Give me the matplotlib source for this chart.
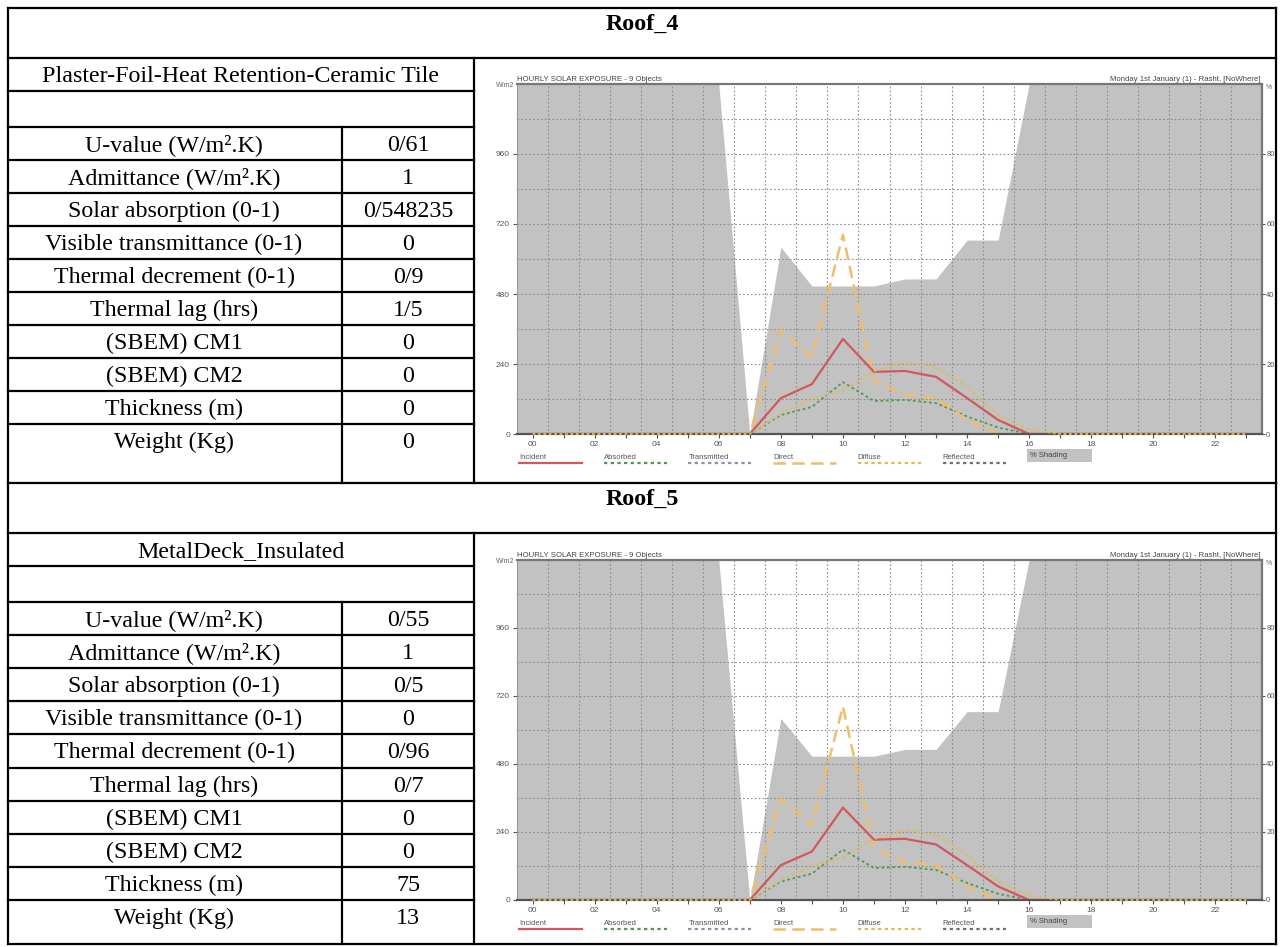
import numpy as np
import matplotlib.pyplot as plt
from matplotlib.patches import Rectangle

W, H = 1280, 947

# hourly solar exposure (same for both roofs), W/m2
hours = np.arange(24)
incident = [0] * 8 + [123, 171, 326, 213, 216, 196, 123, 48] + [0] * 8
absorbed = [0] * 8 + [65, 93, 178, 113, 117, 106, 60, 22] + [0] * 8
transmitted = [0] * 24
direct = [0] * 8 + [357, 264, 683, 182, 134, 123, 48, 0] + [0] * 8
diffuse = [0] * 8 + [70, 120, 150, 215, 245, 230, 160, 65, 15] + [0] * 7
reflected = [0] * 24
# % shading (right axis)
shading = [100] * 7 + [0, 53.4, 42.3, 42.3, 42.3, 44.3, 44.3, 55.4, 55.4] + [100] * 8

roof_titles = ["Roof_4", "Roof_5"]
roof_names = ["Plaster-Foil-Heat Retention-Ceramic Tile", "MetalDeck_Insulated"]
prop_labels = ["U-value (W/m\u00b2.K)", "Admittance (W/m\u00b2.K)", "Solar absorption (0-1)",
               "Visible transmittance (0-1)", "Thermal decrement (0-1)", "Thermal lag (hrs)",
               "(SBEM) CM1", "(SBEM) CM2", "Thickness (m)", "Weight (Kg)"]
roof4_values = ["0/61", "1", "0/548235", "0", "0/9", "1/5", "0", "0", "0", "0"]
roof5_values = ["0/55", "1", "0/5", "0", "0/96", "0/7", "0", "0", "75", "13"]

series = [  # name, values, color, linestyle, linewidth, zorder
    ("Incident", incident, "#d2585a", "-", 1.6, 9),
    ("Absorbed", absorbed, "#4e9a52", (0, (1.5, 1.5)), 1.3, 7),
    ("Transmitted", transmitted, "#8894a8", (0, (1.5, 1.5)), 1.1, 4),
    ("Direct", direct, "#f0bd6a", (0, (5, 2.5)), 1.8, 8),
    ("Diffuse", diffuse, "#e8b850", (0, (1.5, 1.5)), 1.3, 21),
    ("Reflected", reflected, "#707080", (0, (1.5, 1.5)), 1.1, 3),
]

serif = ["Liberation Serif", "DejaVu Serif"]
plt.rcParams["font.family"] = ["Liberation Sans Narrow", "Liberation Sans", "DejaVu Sans"]

fig = plt.figure(figsize=(W / 100, H / 100), dpi=100)
bg = fig.add_axes([0, 0, 1, 1])
bg.set_xlim(0, W)
bg.set_ylim(H, 0)
bg.axis("off")

LW = 1.6
FS = 17.3
LEFT, MID, SPLIT, RIGHT = 8, 342, 474, 1276


def line(x0, y0, x1, y1):
    bg.plot([x0, x1], [y0, y1], color="k", lw=LW, solid_capstyle="projecting")


def draw_chart(top, bottom):
    ax = fig.add_axes([517 / W, 1 - bottom / H, (1262 - 517) / W, (bottom - top) / H])
    ax.set_xlim(-0.5, 23.5)
    ax.set_ylim(0, 1200)
    fx = np.r_[-0.5, hours, 23.5]
    fy = np.r_[shading[0], shading, shading[-1]] * 12
    ax.fill_between(fx, 0, fy, color="#c2c2c2", lw=0, zorder=1)
    for y in range(120, 1200, 120):
        ax.axhline(y, color="#8c8c8c", lw=0.8, ls=(0, (1.5, 2)), zorder=2)
    for x in np.arange(0.5, 23.5, 1):
        ax.axvline(x, color="#8c8c8c", lw=0.8, ls=(0, (1.5, 2)), zorder=2)
    for name, vals, col, ls, lw, z in series:
        ax.plot(hours, vals, color=col, ls=ls, lw=lw, zorder=z, clip_on=(z < 20))

    ax.set_xticks(hours)
    ax.set_xticklabels(["%02d" % h if h % 2 == 0 else "" for h in hours])
    ax.set_yticks(range(0, 1200, 240))
    ax.tick_params(labelsize=6, colors="#555", length=3, width=0.8, pad=2)
    for s in ["top", "right"]:
        ax.spines[s].set_color("#777")
        ax.spines[s].set_linewidth(1.6)
    ax.spines["left"].set_color("#999")
    ax.spines["left"].set_linewidth(0.8)
    ax.spines["bottom"].set_color("#555")
    ax.spines["bottom"].set_linewidth(1.6)
    ax.spines["bottom"].set_zorder(20)

    sec = ax.secondary_yaxis("right", functions=(lambda y: y / 12, lambda p: p * 12))
    sec.set_yticks([0, 20, 40, 60, 80])
    sec.tick_params(labelsize=5.5, colors="#555", length=2, width=0.8, pad=1)
    sec.spines["right"].set_visible(False)

    bg.text(517, top - 3, "HOURLY SOLAR EXPOSURE - 9 Objects", fontsize=5.6, color="#444", va="baseline")
    bg.text(514, top + 1, "W/m2", ha="right", va="center", fontsize=5, color="#666")
    bg.text(1261, top - 3, "Monday 1st January (1) - Rasht, [NoWhere]", ha="right", va="baseline",
            fontsize=5.6, color="#444")
    bg.text(1266, top + 3, "%", va="center", fontsize=5, color="#666")

    # legend strip
    for i, (name, vals, col, ls, lw, z) in enumerate(series):
        x0 = 519 + 84.7 * i
        bg.text(x0, bottom + 23, name, va="center", fontsize=5.5, color="#555")
        bg.plot([x0, x0 + 63], [bottom + 29] * 2, color=col, ls=ls, lw=max(lw, 1.6))
    bg.add_patch(Rectangle((1027, bottom + 15), 65, 13, color="#c2c2c2", lw=0))
    bg.text(1030, bottom + 21, "% Shading", va="center", fontsize=5.5, color="#444")


sections = [
    dict(top=8, bottom=483, weight_top=424, chart=(84, 434), values=roof4_values),
    dict(top=483, bottom=944, weight_top=900, chart=(560, 900), values=roof5_values),
]

for k, s in enumerate(sections):
    top, bottom = s["top"], s["bottom"]
    title_b = top + 50
    name_b = title_b + 33
    blank_b = name_b + 36
    edges = list(np.linspace(blank_b, s["weight_top"], 10)) + [bottom]

    # frame lines
    line(LEFT, top, RIGHT, top)
    line(LEFT, title_b, RIGHT, title_b)
    line(LEFT, name_b, SPLIT, name_b)
    line(LEFT, blank_b, SPLIT, blank_b)
    for y in edges[1:-1]:
        line(LEFT, y, SPLIT, y)
    line(LEFT, top, LEFT, bottom)
    line(RIGHT, top, RIGHT, bottom)
    line(SPLIT, title_b, SPLIT, bottom)
    line(MID, blank_b, MID, bottom)

    bg.text((LEFT + RIGHT) / 2, top + 22, roof_titles[k], ha="center", va="baseline",
            fontsize=FS, fontweight="bold", family=serif)
    bg.text((LEFT + SPLIT) / 2, title_b + 24, roof_names[k], ha="center", va="baseline",
            fontsize=FS, family=serif)
    for i, lab in enumerate(prop_labels):
        bg.text(174, edges[i] + 24, lab, ha="center", va="baseline", fontsize=FS, family=serif)
        bg.text(408, edges[i] + 24, s["values"][i], ha="center", va="baseline", fontsize=FS, family=serif)

    draw_chart(*s["chart"])

line(LEFT, 944, RIGHT, 944)

fig.savefig("out.png", dpi=100, facecolor="white")
